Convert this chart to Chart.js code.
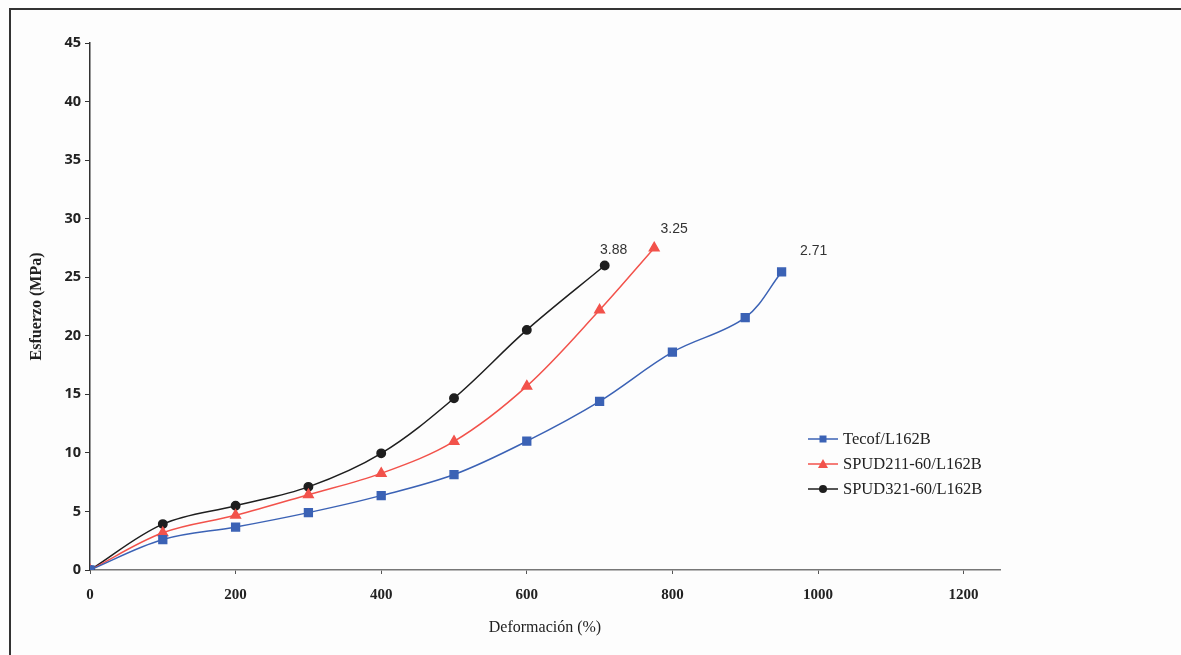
<!DOCTYPE html>
<html lang="es">
<head>
<meta charset="UTF-8" />
<title>Esfuerzo - Deformación</title>
<script src="https://cdn.jsdelivr.net/npm/chart.js@4.4.1/dist/chart.umd.min.js"></script>
<style>
  html, body { margin: 0; padding: 0; background: #fdfdfd; }
  canvas { display: block; }
</style>
</head>
<body>
<canvas id="curvas" width="1181" height="655"></canvas>
<script>
// deformación (%) y esfuerzo (MPa) de cada mezcla
const defTecof = [0, 100, 200, 300, 400, 500, 600, 700, 800, 900, 950];
const esfTecof = [0, 2.6, 3.67, 4.9, 6.35, 8.15, 11.0, 14.4, 18.6, 21.55, 25.45];

const defSpud211 = [0, 100, 200, 300, 400, 500, 600, 700, 775];
const esfSpud211 = [0, 3.18, 4.67, 6.43, 8.25, 10.98, 15.7, 22.2, 27.5];

const defSpud321 = [0, 100, 200, 300, 400, 500, 600, 707];
const esfSpud321 = [0, 3.92, 5.49, 7.1, 9.96, 14.67, 20.5, 26.0];

const nombres = ['Tecof/L162B', 'SPUD211-60/L162B', 'SPUD321-60/L162B'];
// valores anotados al final de cada curva
const valoresFinales = ['2.71', '3.25', '3.88'];

const ticksX = [0, 200, 400, 600, 800, 1000, 1200];

const azul = '#3b62b5';
const rojo = '#f2524b';
const negro = '#1e1e1e';

function puntos(xs, ys) {
    return xs.map((x, i) => ({ x: x, y: ys[i] }));
}

// marco, leyenda y valores finales
const extras = {
    id: 'extras',
    beforeDraw(chart) {
        const c = chart.ctx;
        c.save();
        c.fillStyle = '#fdfdfd';
        c.fillRect(0, 0, chart.width, chart.height);
        c.strokeStyle = '#333';
        c.lineWidth = 2;
        c.beginPath();
        c.moveTo(10, chart.height);
        c.lineTo(10, 9);
        c.lineTo(chart.width, 9);
        c.stroke();
        c.restore();
    },
    afterDraw(chart) {
        const c = chart.ctx;
        c.save();
        // valores al final de las curvas
        const desplaz = [[32, -21], [20, -19], [9, -15]];
        c.font = '14px "Liberation Sans", Arial, sans-serif';
        c.fillStyle = '#333';
        c.textAlign = 'center';
        c.textBaseline = 'middle';
        chart.data.datasets.forEach((ds, i) => {
            const meta = chart.getDatasetMeta(i);
            const p = meta.data[meta.data.length - 1];
            c.fillText(valoresFinales[i], p.x + desplaz[i][0], p.y + desplaz[i][1]);
        });

        // leyenda
        const x0 = 808, x1 = 838, yIni = 439, paso = 25;
        c.font = '16.5px "Liberation Serif", "Times New Roman", serif';
        c.textAlign = 'left';
        chart.data.datasets.forEach((ds, i) => {
            const y = yIni + i * paso;
            c.strokeStyle = ds.borderColor;
            c.lineWidth = 1.5;
            c.beginPath();
            c.moveTo(x0, y);
            c.lineTo(x1, y);
            c.stroke();
            c.fillStyle = ds.pointBackgroundColor;
            const xm = (x0 + x1) / 2;
            c.beginPath();
            if (ds.pointStyle === 'rect') {
                c.rect(xm - 3.5, y - 3.5, 7, 7);
            } else if (ds.pointStyle === 'triangle') {
                c.moveTo(xm, y - 5);
                c.lineTo(xm + 5, y + 4);
                c.lineTo(xm - 5, y + 4);
                c.closePath();
            } else {
                c.arc(xm, y, 4, 0, Math.PI * 2);
            }
            c.fill();
            c.fillStyle = '#222';
            c.fillText(nombres[i], 843, y + 1);
        });
        c.restore();
    }
};

function serie(i, xs, ys, color, estilo, radio) {
    return {
        label: nombres[i],
        data: puntos(xs, ys),
        borderColor: color,
        backgroundColor: color,
        pointBackgroundColor: color,
        pointBorderColor: color,
        pointStyle: estilo,
        pointRadius: radio,
        borderWidth: 1.5,
        tension: 0.35,
        fill: false
    };
}

new Chart(document.getElementById('curvas'), {
    type: 'line',
    data: {
        datasets: [
            serie(0, defTecof, esfTecof, azul, 'rect', 5.5),
            serie(1, defSpud211, esfSpud211, rojo, 'triangle', 5.5),
            serie(2, defSpud321, esfSpud321, negro, 'circle', 4.2)
        ]
    },
    options: {
        responsive: false,
        animation: false,
        layout: { padding: { left: 0, right: 181, top: 43, bottom: 0 } },
        plugins: {
            legend: { display: false },
            tooltip: { enabled: false }
        },
        scales: {
            x: {
                type: 'linear',
                min: 0,
                max: 1250,
                afterFit(scale) { scale.height = 85; },
                afterBuildTicks(scale) { scale.ticks = ticksX.map(v => ({ value: v })); },
                border: { display: true, color: '#777', width: 1.5 },
                grid: { drawOnChartArea: false, tickLength: 4, color: '#555' },
                ticks: {
                    padding: 12,
                    color: '#222',
                    callback: v => String(v),
                    font: { family: '"Liberation Serif", "Times New Roman", serif', size: 15, weight: 'bold' }
                },
                title: {
                    display: true,
                    text: 'Deformación (%)',
                    color: '#222',
                    padding: { top: 0, bottom: 18 },
                    font: { family: '"Liberation Serif", "Times New Roman", serif', size: 16 }
                }
            },
            y: {
                min: 0,
                max: 45,
                afterFit(scale) { scale.width = 90; },
                border: { display: true, color: '#333', width: 1.5 },
                grid: { drawOnChartArea: false, tickLength: 5, color: '#333' },
                ticks: {
                    stepSize: 5,
                    padding: 4,
                    color: '#222',
                    font: { family: '"Open Sans", sans-serif', size: 14.5, weight: 'bold' }
                },
                title: {
                    display: true,
                    text: 'Esfuerzo (MPa)',
                    color: '#222',
                    padding: { top: 27, bottom: 0 },
                    font: { family: '"Liberation Serif", "Times New Roman", serif', size: 16, weight: 'bold' }
                }
            }
        }
    },
    plugins: [extras]
});
</script>
</body>
</html>
